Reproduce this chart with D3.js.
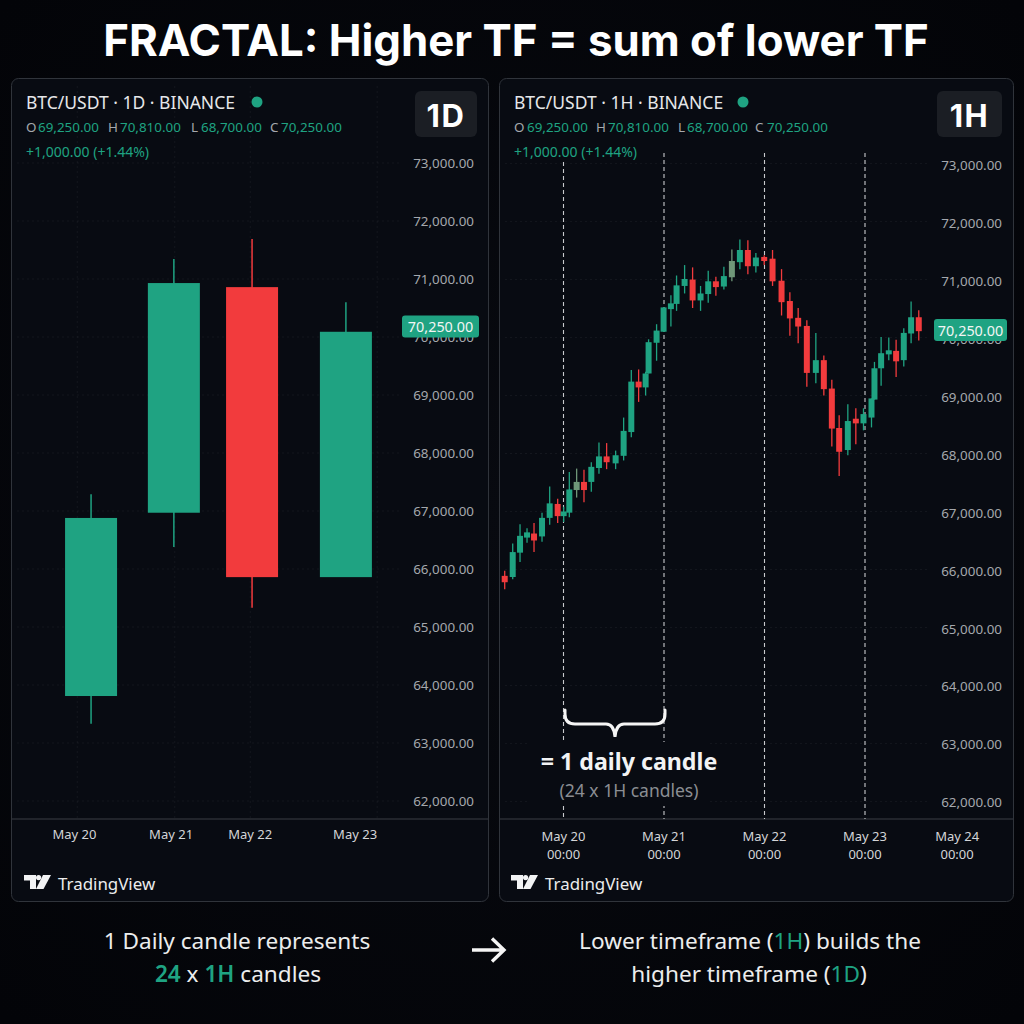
<!DOCTYPE html>
<html><head><meta charset="utf-8">
<script src="https://cdn.jsdelivr.net/npm/d3@7/dist/d3.min.js"></script>
<style>html,body{margin:0;padding:0;background:#04060a}svg{display:block}</style>
</head><body><svg id="c" width="1024" height="1024"></svg>
<script>
const priceTicks=[73000,72000,71000,70000,69000,68000,67000,66000,65000,64000,63000,62000];
const ohlcLabels=["O","H","L","C"];
const ohlcValues=["69,250.00","70,810.00","68,700.00","70,250.00"];
const changeLabel="+1,000.00 (+1.44%)";
const lastPrice="70,250.00";

const dayPos=[0.18,1.08,1.93,2.95];
const dayOpen=[63810,66970,70860,65860];
const dayHigh=[67290,71345,71690,70600];
const dayLow=[63330,66380,65330,65860];
const dayClose=[66880,70930,65860,70090];
const dayTickPos=[0,1.05,1.91,3.05];
const dayTickLabels=["May 20","May 21","May 22","May 23"];
const dayGridPos=[0.03,1.09,1.91,3.29];

const hourPos=[-14.04,-12.13,-10.38,-8.71,-7.04,-5.13,-3.3,-1.39,0.04,1.39,3.14,4.89,6.64,8.47,10.3,12.45,14.36,16.19,17.94,19.61,20.32,22.23,23.9,25.65,27.0,28.92,30.83,32.73,34.56,36.39,38.3,40.21,42.12,44.03,45.94,47.93,49.92,52.07,54.06,56.04,58.11,60.26,62.17,64.08,65.83,67.9,69.81,71.64,73.55,74.26,75.85,77.68,79.43,81.26,83.01,84.84];
const hourOpen=[65890,65870,66290,66550,66620,66570,66890,67130,66920,66980,67370,67510,67510,67750,67950,67830,67960,68370,69240,69140,69380,69910,70100,70490,70580,70890,71000,70640,70750,70970,70880,71040,71300,71510,71230,71390,71360,70980,70630,70340,70200,69390,69610,69120,68440,68060,68600,68520,68620,68930,69470,69710,69770,69610,70070,70350];
const hourHigh=[65980,66450,66780,66710,66800,66980,67430,67220,67080,67680,67740,67720,67850,68190,68180,68050,68620,69440,69450,69410,69970,70230,70520,70730,71070,71250,71210,70890,71150,71050,71220,71520,71690,71680,71460,71420,71510,71180,70780,70510,70300,70080,69690,69270,68660,68850,68780,68780,68950,69580,70010,70000,69960,70160,70620,70470];
const hourLow=[65660,65830,66130,66460,66300,66480,66770,66800,66820,66900,67240,67160,67340,67650,67730,67730,67880,68280,68890,69000,69380,69600,70100,70190,70460,70760,70510,70460,70600,70720,70830,70970,71180,71090,71120,71250,70890,70380,70030,69900,69150,69210,69000,68120,67610,67970,68160,68400,68450,68930,69170,69610,69320,69500,69900,69950];
const hourClose=[65780,66300,66580,66640,66500,66890,67140,66920,67000,67380,67510,67370,67770,67950,67850,67970,68390,69240,69140,69380,69920,70120,70520,70590,70900,71010,70640,70760,70970,70870,71060,71320,71510,71230,71380,71320,70970,70610,70330,70190,69390,69610,69110,68430,68030,68560,68520,68680,68950,69470,69730,69780,69590,70080,70350,70110];
const hourMuted=[10,31];
const hourTickPos=[0,24,48,72,94];
const hourTickDay=["May 20","May 21","May 22","May 23","May 24"];
const hourTickTime=["00:00","00:00","00:00","00:00","00:00"];
const sessionHours=[0,24,48,72];

const GREEN="#1fa382",RED="#f23b3d",MUTED="#6f9678",PANEL="#080b12",GRID="rgba(255,255,255,0.05)";
const FONT="'Noto Sans',sans-serif";
const svg=d3.select("#c");
const defs=svg.append("defs");
const bg=defs.append("radialGradient").attr("id","bg").attr("cx","50%").attr("cy","50%").attr("r","70%");
bg.append("stop").attr("offset","0%").attr("stop-color","#080a10");
bg.append("stop").attr("offset","100%").attr("stop-color","#030408");
svg.append("rect").attr("width",1024).attr("height",1024).attr("fill","url(#bg)");

function txt(g,x,y,s,o={}){
  const t=g.append("text").attr("x",x).attr("y",y).attr("font-family",o.font||FONT)
   .attr("font-size",o.size||12).attr("font-weight",o.weight||400).attr("fill",o.fill||"#fff")
   .attr("text-anchor",o.anchor||"start").attr("dominant-baseline","central").text(s);
  if(o.ls)t.attr("letter-spacing",o.ls);
  return t;
}
txt(svg,516,40,"FRACTAL: Higher TF = sum of lower TF",{size:43.8,weight:700,anchor:"middle",font:"Inter,'Noto Sans',sans-serif"});

function panel(cfg){
  const g=svg.append("g");
  g.append("rect").attr("x",cfg.x0+.5).attr("y",78.5).attr("width",cfg.x1-cfg.x0).attr("height",823)
    .attr("rx",7).attr("fill",PANEL).attr("stroke","#30343b").attr("stroke-width",1);
  const y=d3.scaleLinear().domain([73000,62000]).range(cfg.yRange);
  g.selectAll("line.h").data(priceTicks).join("line").attr("x1",cfg.x0+6).attr("x2",cfg.gridEnd)
    .attr("y1",d=>y(d)).attr("y2",d=>y(d)).attr("stroke",GRID).attr("stroke-dasharray","2,3");
  const ax=d3.axisRight(y).tickValues(priceTicks).tickFormat(d3.format(",.2f")).tickSize(0).tickPadding(0);
  const ag=g.append("g").attr("transform",`translate(${cfg.labelEnd},${cfg.labelDy})`).call(ax);
  ag.select(".domain").remove();
  ag.selectAll("text").attr("text-anchor","end").attr("font-family",FONT).attr("font-size",13.4).attr("fill","#a5a8ad").attr("dy","0.34em").attr("x",0);
  g.append("line").attr("x1",cfg.x0+1).attr("x2",cfg.x1).attr("y1",819).attr("y2",819).attr("stroke","#3a3e45");
  // header
  txt(g,cfg.x0+15,102,cfg.title,{size:17.5,fill:"#e6e7e9"});
  g.append("circle").attr("cx",cfg.dot).attr("cy",102).attr("r",5.5).attr("fill",GREEN);
  ohlcLabels.forEach((l,i)=>{
    txt(g,cfg.ohlcL[i],127,l,{size:13.4,fill:"#a5a8ad"});
    txt(g,cfg.ohlcV[i],127,ohlcValues[i],{size:13.4,fill:GREEN});
  });
  txt(g,cfg.x0+15,151,changeLabel,{size:14,fill:GREEN});
  g.append("rect").attr("x",cfg.boxX).attr("y",91).attr("width",cfg.boxW).attr("height",46).attr("rx",6).attr("fill","#1b1e24");
  txt(g,cfg.boxX+cfg.boxW/2,115,cfg.badge,{size:31,weight:700,anchor:"middle",ls:1.5,font:"Inter,'Noto Sans',sans-serif"});
  // logo
  const lg=g.append("g").attr("transform",`translate(${cfg.logoX},875)`);
  lg.append("path").attr("d","M0 0H12V14H6V5.5H0Z").attr("fill","#f2f3f4");
  lg.append("circle").attr("cx",14.6).attr("cy",2.6).attr("r",2.6).attr("fill","#f2f3f4");
  lg.append("path").attr("d","M19 0H27L19.5 14H12Z").attr("fill","#f2f3f4");
  txt(g,cfg.logoX+34,883,"TradingView",{size:16.9,fill:"#eceded"});
  return {g,y};
}

// ---------- 1D ----------
const L=panel({x0:11,x1:488,yRange:[163,801],gridEnd:402,labelEnd:474,labelDy:0,title:"BTC/USDT · 1D · BINANCE",dot:257,
  ohlcL:[26,108,191,270],ohlcV:[38,120,201,281],boxX:415,boxW:62,badge:"1D",logoX:24});
const xD=d3.scaleLinear().domain([0,3]).range([74.5,350.5]);
L.g.selectAll("line.v").data(dayGridPos).join("line").attr("x1",d=>xD(d)).attr("x2",d=>xD(d)).attr("y1",86).attr("y2",819)
  .attr("stroke",GRID).attr("stroke-dasharray","2,3");
const dayData=dayPos.map((p,i)=>({p,o:dayOpen[i],h:dayHigh[i],l:dayLow[i],c:dayClose[i]}));
const col=d=>d.muted?MUTED:(d.c>=d.o?GREEN:RED);
function candles(g,data,x,y,bw,ww){
  const s=g.selectAll("g.c").data(data).join("g");
  s.append("line").attr("x1",d=>x(d.p)).attr("x2",d=>x(d.p)).attr("y1",d=>y(d.h)).attr("y2",d=>y(d.l)).attr("stroke",col).attr("stroke-width",ww);
  s.append("rect").attr("x",d=>x(d.p)-bw/2).attr("width",bw).attr("y",d=>y(Math.max(d.o,d.c)))
    .attr("height",d=>Math.max(1,Math.abs(y(d.o)-y(d.c)))).attr("fill",col);
}
candles(L.g,dayData,xD,L.y,52,1.5);
L.g.selectAll("text.xt").data(dayTickPos).join("text").attr("x",d=>xD(d)).attr("y",834).attr("text-anchor","middle")
  .attr("dominant-baseline","central").attr("font-family",FONT).attr("font-size",13).attr("fill","#d4d5d8").text((d,i)=>dayTickLabels[i]);
function tag(g,x,w,cy){
  g.append("rect").attr("x",x).attr("y",cy-11).attr("width",w).attr("height",22).attr("rx",3).attr("fill",GREEN);
  txt(g,x+w/2,cy,lastPrice,{size:14.4,anchor:"middle",fill:"#f2f5f4"});
}
tag(L.g,402,77,326.5);

// ---------- 1H ----------
const R=panel({x0:499,x1:1013,yRange:[163.6,801.4],gridEnd:930,labelEnd:1002,labelDy:1,title:"BTC/USDT · 1H · BINANCE",dot:743,
  ohlcL:[514,596,678,755],ohlcV:[527,608,687,767],boxX:937,boxW:65,badge:"1H",logoX:511});
const xH=d3.scaleLinear().domain([0,72]).range([563.5,865]);
const dashTop=[162,153,153,153];
R.g.selectAll("line.s").data(sessionHours).join("line").attr("x1",d=>xH(d)).attr("x2",d=>xH(d))
  .attr("y1",(d,i)=>dashTop[i]).attr("y2",819).attr("stroke","#c9cacd").attr("stroke-width",1.1).attr("stroke-dasharray","4,3");
const hourData=hourPos.map((p,i)=>({p,o:hourOpen[i],h:hourHigh[i],l:hourLow[i],c:hourClose[i],muted:hourMuted.includes(i)}));
candles(R.g,hourData,xH,R.y,6,1.3);
R.g.selectAll("text.d").data(hourTickPos).join("text").attr("x",d=>xH(d)).attr("y",836).attr("text-anchor","middle")
  .attr("dominant-baseline","central").attr("font-family",FONT).attr("font-size",13).attr("fill","#d4d5d8").text((d,i)=>hourTickDay[i]);
R.g.selectAll("text.t").data(hourTickPos).join("text").attr("x",d=>xH(d)).attr("y",854).attr("text-anchor","middle")
  .attr("dominant-baseline","central").attr("font-family",FONT).attr("font-size",13).attr("fill","#d4d5d8").text((d,i)=>hourTickTime[i]);
tag(R.g,934,73,330);
// annotation
R.g.append("rect").attr("x",530).attr("y",742).attr("width",180).attr("height",64).attr("fill",PANEL);
R.g.append("path").attr("d","M565 710 V714 Q565 724 575 724 H606 Q614 724 615 737 Q616 724 624 724 H655 Q665 724 665 714 V710")
  .attr("fill","none").attr("stroke","#f5f5f5").attr("stroke-width",3).attr("stroke-linecap","round");
txt(R.g,629,761,"= 1 daily candle",{size:23.2,weight:700,anchor:"middle",fill:"#f2f3f4"});
txt(R.g,629,790,"(24 x 1H candles)",{size:17.5,anchor:"middle",fill:"#8b8e93"});

// ---------- footer ----------
function rich(x,y,parts){
  const t=svg.append("text").attr("x",x).attr("y",y).attr("text-anchor","middle").attr("dominant-baseline","central")
   .attr("font-family",FONT).attr("font-size",22.6).attr("fill","#eceded");
  parts.forEach(p=>{const s=t.append("tspan").text(p.t); if(p.c)s.attr("fill",p.c); if(p.w)s.attr("font-weight",p.w);});
}
rich(237,940,[{t:"1 Daily candle represents"}]);
rich(238,973,[{t:"24",c:GREEN,w:600},{t:" x "},{t:"1H",c:GREEN,w:600},{t:" candles"}]);
rich(750,940,[{t:"Lower timeframe ("},{t:"1H",c:GREEN},{t:") builds the"}]);
rich(749,973,[{t:"higher timeframe ("},{t:"1D",c:GREEN},{t:")"}]);
svg.append("path").attr("d","M472 950 H503 M492 938.5 L504 950 L492 961.5").attr("fill","none").attr("stroke","#f5f5f5").attr("stroke-width",3.4);
</script></body></html>
